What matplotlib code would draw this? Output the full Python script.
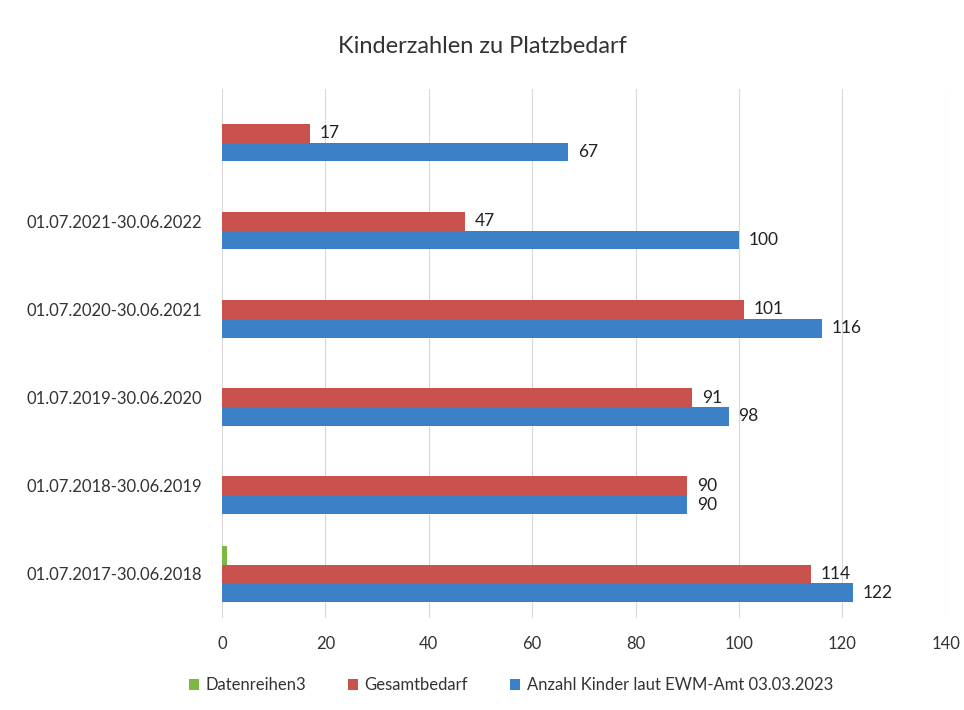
import numpy as np
import matplotlib.pyplot as plt

plt.rcParams['font.family'] = ['Lato', 'DejaVu Sans']

kategorien = ['01.07.2017-30.06.2018', '01.07.2018-30.06.2019', '01.07.2019-30.06.2020',
              '01.07.2020-30.06.2021', '01.07.2021-30.06.2022', '']
datenreihen3 = [1, 0, 0, 0, 0, 0]
gesamtbedarf = [114, 90, 91, 101, 47, 17]
anzahl_kinder = [122, 90, 98, 116, 100, 67]

fig = plt.figure(figsize=(9.64, 7.1), dpi=100)
ax = fig.add_axes([0.2303, 0.1296, 0.7507, 0.745])

y = np.arange(len(kategorien))
w = 0.213
c_gruen, c_rot, c_blau = '#7DB843', '#C9524F', '#3B7FC6'

ax.barh(y + w, datenreihen3, height=w, color=c_gruen, label='Datenreihen3', zorder=2)
b_rot = ax.barh(y, gesamtbedarf, height=w, color=c_rot, label='Gesamtbedarf', zorder=2)
b_blau = ax.barh(y - w, anzahl_kinder, height=w, color=c_blau,
                 label='Anzahl Kinder laut EWM-Amt 03.03.2023', zorder=2)
ax.bar_label(b_rot, padding=7, fontsize=12.5, color='#222222')
ax.bar_label(b_blau, padding=7, fontsize=12.5, color='#222222')

ax.set_xlim(0, 140)
ax.set_xticks(range(0, 141, 20))
ax.set_ylim(-0.5, 5.5)
ax.set_yticks(y)
ax.set_yticklabels(kategorien)
ax.tick_params(axis='both', length=0, labelsize=12, colors='#333333')
ax.tick_params(axis='y', pad=14)
ax.tick_params(axis='x', pad=13)
ax.grid(axis='x', color='#d9d9d9', lw=0.8, zorder=0)
for s in ax.spines.values():
    s.set_visible(False)

fig.text(0.5, 0.934, 'Kinderzahlen zu Platzbedarf', ha='center', va='center',
         fontsize=17, color='#333333')

h, l = ax.get_legend_handles_labels()
fig.legend(h, l, loc='center', bbox_to_anchor=(0.53, 0.035), ncol=3, frameon=False,
           fontsize=12, handlelength=0.6, handleheight=0.6, columnspacing=2.5,
           handletextpad=0.4, labelcolor='#333333')

fig.savefig('out.png', dpi=100)
